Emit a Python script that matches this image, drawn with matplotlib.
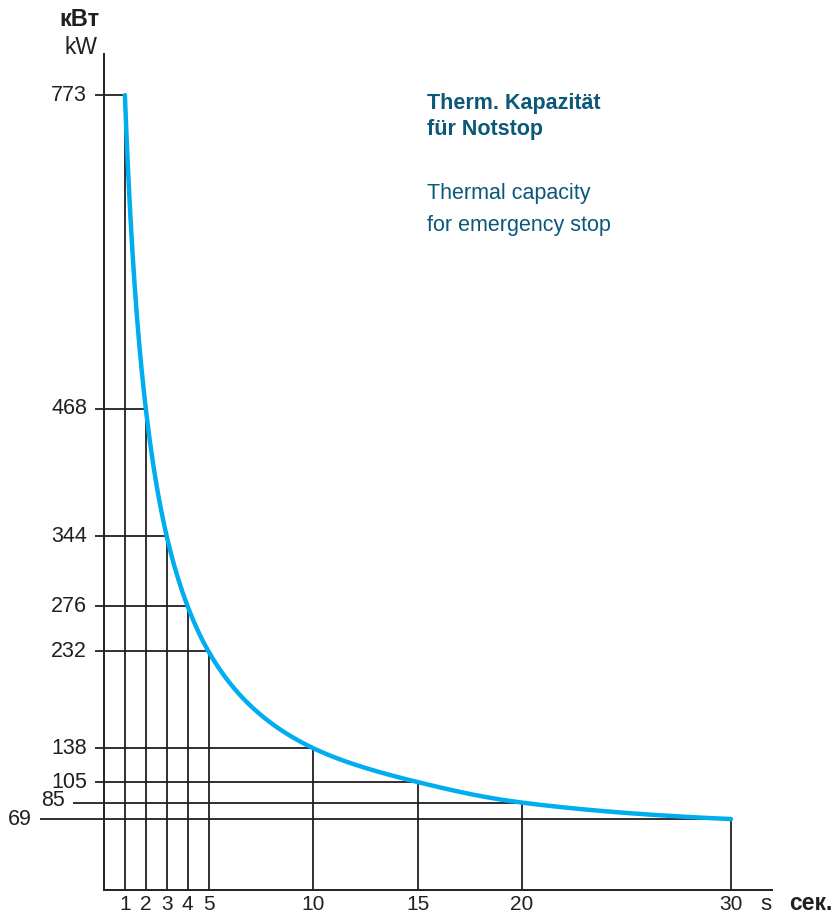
import numpy as np
import matplotlib
matplotlib.use("Agg")
import matplotlib.pyplot as plt
from matplotlib import font_manager

# Braking time (s) and thermal capacity (kW)
seconds = [1, 2, 3, 4, 5, 10, 15, 20, 30]
power_kw = [773, 468, 344, 276, 232, 138, 105, 85, 69]
x_tick_labels = ["1", "2", "3", "4", "5", "10", "15", "20", "30"]
y_tick_labels = ["773", "468", "344", "276", "232", "138", "105", "85", "69"]

available = {f.name for f in font_manager.fontManager.ttflist}
narrow = "Liberation Sans Narrow" if "Liberation Sans Narrow" in available else "Liberation Sans"
plt.rcParams["font.family"] = ["Liberation Sans", "DejaVu Sans"]

CURVE = "#00aeef"
TEXT_BLUE = "#0b5878"
INK = "#231f20"


def pchip(x, y, xs):
    """Monotone cubic (Fritsch-Carlson) curve through the given points."""
    x = np.asarray(x, float)
    y = np.asarray(y, float)
    h = np.diff(x)
    d = np.diff(y) / h
    m = np.zeros_like(y)
    for k in range(1, len(x) - 1):
        if d[k - 1] * d[k] > 0:
            w1 = 2 * h[k] + h[k - 1]
            w2 = h[k] + 2 * h[k - 1]
            m[k] = (w1 + w2) / (w1 / d[k - 1] + w2 / d[k])
    m[0] = ((2 * h[0] + h[1]) * d[0] - h[0] * d[1]) / (h[0] + h[1])
    if np.sign(m[0]) != np.sign(d[0]):
        m[0] = 0
    m[-1] = ((2 * h[-1] + h[-2]) * d[-1] - h[-1] * d[-2]) / (h[-1] + h[-2])
    if np.sign(m[-1]) != np.sign(d[-1]):
        m[-1] = 0
    idx = np.clip(np.searchsorted(x, xs) - 1, 0, len(x) - 2)
    t = (xs - x[idx]) / h[idx]
    h00 = 2 * t**3 - 3 * t**2 + 1
    h10 = t**3 - 2 * t**2 + t
    h01 = -2 * t**3 + 3 * t**2
    h11 = t**3 - t**2
    return (h00 * y[idx] + h10 * h[idx] * m[idx]
            + h01 * y[idx + 1] + h11 * h[idx] * m[idx + 1])


W, H = 834, 915
fig = plt.figure(figsize=(W / 100, H / 100), dpi=100)
left_px, right_px, top_px, bottom_px = 104, 772, 54, 890
ax = fig.add_axes([left_px / W, 1 - bottom_px / H,
                   (right_px - left_px) / W, (bottom_px - top_px) / H])

x_max = 31.96
y_max = 813
ax.set_xlim(0, x_max)
ax.set_ylim(0, y_max)
px_x = (right_px - left_px) / x_max   # pixels per second
for s in ("top", "right"):
    ax.spines[s].set_visible(False)
for s in ("left", "bottom"):
    ax.spines[s].set_color(INK)
    ax.spines[s].set_linewidth(1.4)
ax.set_xticks([])
ax.set_yticks([])

# Reference lines from each axis to each point on the curve
tick_reach = {85: 31, 69: 64}
for xv, yv, xl, yl in zip(seconds, power_kw, x_tick_labels, y_tick_labels):
    ax.plot([xv, xv], [0, yv], color=INK, lw=1.3, solid_capstyle="butt", zorder=2)
    ext = tick_reach.get(yv, 9) / px_x
    ax.plot([-ext, xv], [yv, yv], color=INK, lw=1.3, clip_on=False,
            solid_capstyle="butt", zorder=2)
    ax.text(-ext - 8 / px_x, yv + (2 if yv == 85 else 0), yl, ha="right", va="center",
            fontsize=15.5, color=INK)
    ax.text(xv, -14, xl, ha="center", va="center", fontsize=15, color=INK,
            clip_on=False)

# Smooth curve through the points, interpolated in log-log space
xs = np.linspace(seconds[0], seconds[-1], 800)
ys = np.exp(pchip(np.log(seconds), np.log(power_kw), np.log(xs)))
ax.plot(xs, ys, color=CURVE, lw=3.2, solid_capstyle="round", zorder=3)

# Axis unit labels
fig.text(79 / W, 1 - 20 / H, "кВт", ha="center", va="center", fontsize=17,
         fontweight="bold", color=INK)
fig.text(97 / W, 1 - 48 / H, "kW", ha="right", va="center", fontsize=16.5,
         color=INK)
fig.text(766 / W, 1 - 904 / H, "s", ha="center", va="center", fontsize=16, color=INK)
fig.text(833 / W, 1 - 903 / H, "сек.", ha="right", va="center", fontsize=16.5,
         fontweight="bold", color=INK)

# Caption
fig.text(427 / W, 1 - 103 / H, "Therm. Kapazität", ha="left", va="center",
         fontsize=15.5, fontweight="bold", color=TEXT_BLUE, family=narrow)
fig.text(427 / W, 1 - 130 / H, "für Notstop", ha="left", va="center",
         fontsize=15.5, fontweight="bold", color=TEXT_BLUE, family=narrow)
fig.text(427 / W, 1 - 193 / H, "Thermal capacity", ha="left", va="center",
         fontsize=15.5, color=TEXT_BLUE, family=narrow)
fig.text(427 / W, 1 - 226 / H, "for emergency stop", ha="left", va="center",
         fontsize=15.5, color=TEXT_BLUE, family=narrow)

fig.savefig("out.png", dpi=100)
